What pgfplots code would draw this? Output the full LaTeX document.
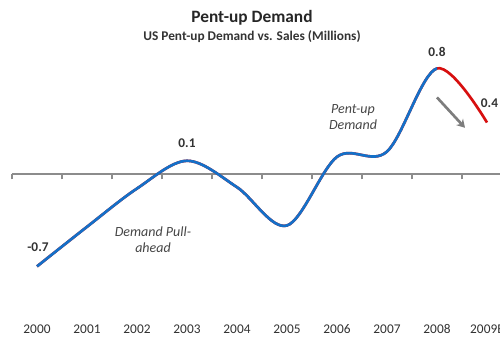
\documentclass[border=0pt]{standalone}
\usepackage{fontspec}
\setmainfont{Carlito}
\usepackage{pgfplots}
\pgfplotsset{compat=1.18}
\usetikzlibrary{arrows.meta}
\definecolor{lineblue}{RGB}{20,112,200}
\definecolor{linered}{RGB}{215,15,15}
\definecolor{axisgray}{RGB}{140,140,140}
\definecolor{tickgray}{RGB}{50,50,50}
\definecolor{annogray}{RGB}{70,70,70}
\definecolor{arrowgray}{RGB}{125,125,125}
\begin{document}
\begin{tikzpicture}
\path[use as bounding box] (0,0) rectangle (375pt,254.25pt);
\pgfplotsset{base/.style={at={(27.75pt,123.75pt)}, anchor=origin, x=37.5pt, y=99pt,
  xmin=-0.5, xmax=9.5, ymin=-1.106, ymax=1.3}}
% zero line with category ticks
\begin{axis}[base, axis x line=middle, axis y line=none,
  xtick={-0.5,0.5,...,9.5}, xticklabels={}, xtick align=outside,
  major tick length=4pt,
  tick style={draw=axisgray, line width=0.8pt},
  axis line style={draw=axisgray, line width=1.2pt, -}]
\end{axis}
% main axis: labels, red part, annotations
\begin{axis}[base, clip=false, axis line style={draw=none}, tick style={draw=none},
  xtick={0,1,2,3,4,5,6,7,8,9},
  xticklabels={2000,2001,2002,2003,2004,2005,2006,2007,2008,2009E},
  ytick=\empty,
  xticklabel style={font=\fontsize{10}{12}\selectfont, text=tickgray}]
\addplot[linered, line width=2pt, smooth, tension=0.55] coordinates {
 (0,-0.70) (1,-0.40) (2,-0.11) (3,0.10) (4,-0.10) (5,-0.39) (6,0.13) (7,0.17) (8,0.80) (9,0.39)};
\node[font=\bfseries\fontsize{10}{12}\selectfont, text=tickgray] at (axis cs:0.02,-0.553) {-0.7};
\node[font=\bfseries\fontsize{10}{12}\selectfont, text=tickgray] at (axis cs:3,0.235) {0.1};
\node[font=\bfseries\fontsize{10}{12}\selectfont, text=tickgray] at (axis cs:8,0.924) {0.8};
\node[font=\bfseries\fontsize{10}{12}\selectfont, text=tickgray] at (axis cs:9.05,0.538) {0.4};
\node[align=center, font=\itshape\fontsize{10.5}{12}\selectfont, text=annogray] at (axis cs:6.32,0.43) {Pent-up\\Demand};
\node[align=center, font=\itshape\fontsize{10.5}{12}\selectfont, text=annogray] at (axis cs:2.32,-0.50) {Demand Pull-\\ahead};
\draw[-{Stealth[length=6pt,width=7pt]}, line width=2pt, arrowgray] (axis cs:8,0.58) -- (axis cs:8.56,0.35);
\end{axis}
% blue part (clipped at 2008)
\begin{axis}[base, xmax=8, hide axis]
\addplot[lineblue, line width=2pt, smooth, tension=0.55] coordinates {
 (0,-0.70) (1,-0.40) (2,-0.11) (3,0.10) (4,-0.10) (5,-0.39) (6,0.13) (7,0.17) (8,0.80) (9,0.39)};
\end{axis}
\node[font=\bfseries\fontsize{13}{15}\selectfont, text=black!85] at (189pt,240.75pt) {Pent-up Demand};
\node[font=\bfseries\fontsize{10}{12}\selectfont, text=black!80] at (189pt,226.5pt) {US Pent-up Demand vs. Sales (Millions)};
\end{tikzpicture}
\end{document}
